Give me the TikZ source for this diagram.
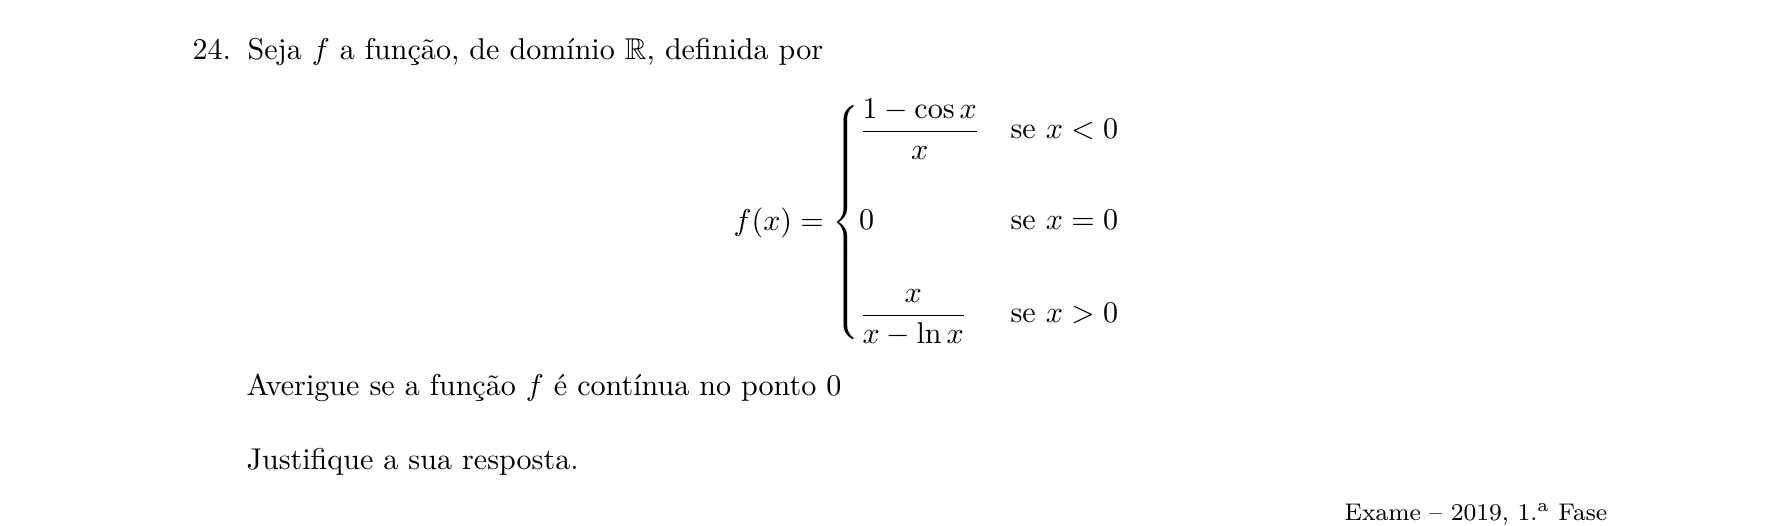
\documentclass[tikz,border=0pt]{standalone}
\usepackage{fontspec}
\usepackage{amsmath}
\usepackage{amssymb}
\usetikzlibrary{positioning}
\newcommand\pxu{0.3324pt}

\begin{document}
\begin{tikzpicture}[x=\pxu,y=-\pxu]
\useasboundingbox (0,0) rectangle (1785,525);
\begin{scope}[node distance=0pt]

\tikzstyle{line}=[inner sep=0pt,anchor=base west,font=\normalsize]
\tikzstyle{src}=[inner sep=0pt,anchor=base west,font=\footnotesize]

%% QUESTION
\node (num) [line] at (192,59) {24.};
\node (intro) [line] at (247,59) {Seja $f$ a função, de domínio $\mathbb{R}$, definida por};

%% FUNCTION
\node (func) [line] at (733,230) {$f(x)=\begin{cases}
  \dfrac{1-\cos x}{x} & \text{se } x<0\\[3.65ex]
  0 & \text{se } x=0\\[3.65ex]
  \dfrac{x}{x-\ln x} & \text{se } x>0
\end{cases}$};

%% TASK
\node (ask) [line] at (246,395) {Averigue se a função $f$ é contínua no ponto 0};
\node (why) [line] at (246,469) {Justifique a sua resposta.};

\node (exam) [src] at (1344,520) {Exame -- 2019, 1.\textsuperscript{a} Fase};

\end{scope}
\end{tikzpicture}
\end{document}
